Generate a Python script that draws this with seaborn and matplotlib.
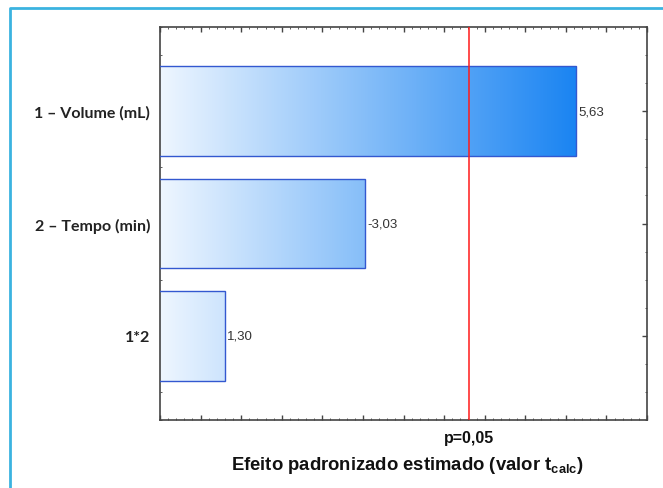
import numpy as np
import pandas as pd
import matplotlib
matplotlib.use("Agg")
import matplotlib.pyplot as plt
from matplotlib.colors import LinearSegmentedColormap
from matplotlib.lines import Line2D
import seaborn as sns

# Standardized effects (Pareto chart)
factors = ["1 – Volume (mL)", "2 – Tempo (min)", "1*2"]
effects = [5.63, -3.03, 1.30]
effect_labels = ["5,63", "-3,03", "1,30"]
t_crit = 4.303
t_crit_label = "p=0,05"
x_title = r"Efeito padronizado estimado (valor t$_{\mathregular{calc}}$)"

df = pd.DataFrame({"factor": factors, "abs_effect": np.abs(effects)})

sns.set_theme(style="white")
plt.rcParams["font.family"] = ["Liberation Sans", "DejaVu Sans"]

fig = plt.figure(figsize=(6.63, 4.89), dpi=100)
ax = fig.add_axes([160 / 663, 1 - 421 / 489, 487 / 663, 393 / 489])

sns.barplot(data=df, x="abs_effect", y="factor", orient="h", width=0.8,
            color="white", edgecolor="#3358d0", linewidth=1.0, ax=ax)

xmin, xmax = 0.5, 6.5
ymin, ymax = 2.75, -0.75

# horizontal blue gradient, shared along the x scale, clipped to each bar
grad_cmap = LinearSegmentedColormap.from_list("bluegrad", ["#eef6ff", "#1a84f2"])
xs = np.linspace(xmin, 5.63, 256)
gradient = ((xs - xmin) / (5.63 - xmin))[None, :]
for patch in ax.patches:
    patch.set_facecolor("none")
    patch.set_zorder(3)
    y0 = patch.get_y()
    h = patch.get_height()
    im = ax.imshow(gradient, cmap=grad_cmap, aspect="auto", vmin=0, vmax=1,
                   extent=[xmin, 5.63, y0 + h, y0], zorder=2, interpolation="bilinear")
    im.set_clip_path(patch)

# value labels
for patch, lab in zip(ax.patches, effect_labels):
    ax.text(patch.get_x() + patch.get_width() + 0.02, patch.get_y() + patch.get_height() / 2,
            lab, ha="left", va="center", fontsize=9.5, color="#333333", zorder=5)

# critical t line
ax.axvline(t_crit, color="#ff1a1a", linewidth=1.1, zorder=4)

ax.set_xlim(xmin, xmax)
ax.set_ylim(ymin, ymax)

# ticks
ax.set_xticks(np.arange(0.5, 6.51, 0.5))
ax.set_xticks(np.arange(0.5, 6.51, 0.1), minor=True)
ax.set_xticklabels([])
ax.set_yticks([0, 1, 2])
ax.set_yticks(np.arange(-0.75, 2.76, 0.25), minor=True)
ax.set_yticklabels(factors, fontfamily=["Lato", "DejaVu Sans"], fontweight="bold",
                   fontsize=11.5, color="#222222")
ax.tick_params(axis="both", which="both", direction="in", top=True, right=True,
               bottom=True, left=True, color="#444444")
ax.tick_params(axis="both", which="major", length=3.5, width=1.0, pad=7)
ax.tick_params(axis="both", which="minor", length=1.5, width=0.6)
ax.set_xlabel("")
ax.set_ylabel("")

for s in ax.spines.values():
    s.set_color("#444444")
    s.set_linewidth(1.2)
    s.set_visible(True)

ax.text(t_crit, -0.045, t_crit_label, transform=ax.get_xaxis_transform(),
        ha="center", va="center", fontsize=11.5, fontweight="bold", color="#111111")
fig.text(407 / 663, 1 - 466 / 489, x_title, ha="center", va="center",
         fontsize=13.3, fontweight="bold", color="#111111")

# light blue frame around the figure
fx = 9.5 / 663
fy = 1 - 8.5 / 489
fig.add_artist(Line2D([fx, fx, 1.0], [0.0, fy, fy], transform=fig.transFigure,
                      color="#3bb3e0", linewidth=2.0))

fig.savefig("out.png", dpi=100)
